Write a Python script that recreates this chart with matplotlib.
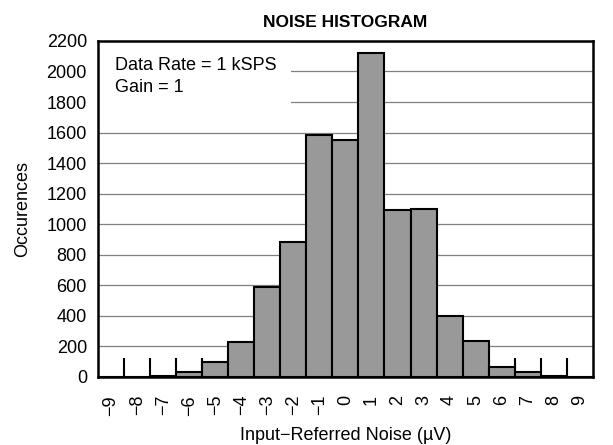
import numpy as np
import matplotlib.pyplot as plt
from matplotlib.patches import Rectangle

plt.rcParams['font.family'] = ['Liberation Sans', 'DejaVu Sans']

# noise bins (uV) and counts
bins = list(range(-9, 10))
counts = [0, 2, 8, 33, 98, 229, 589, 886, 1581, 1550, 2124, 1090, 1098, 400, 234, 66, 30, 3, 0]
tick_labels = [str(b).replace('-', '\u2212') for b in bins]
yticks = list(range(0, 2201, 200))

fig = plt.figure(figsize=(6.13, 4.45), dpi=100)
ax = fig.add_axes([0.160, 0.153, 0.807, 0.755])

ax.bar(bins, counts, width=1.0, color='#999999', edgecolor='black', linewidth=1.5, zorder=3)

ax.set_xlim(-9.5, 9.5)
ax.set_ylim(0, 2200)
ax.set_yticks(yticks)
ax.set_xticks(bins)
ax.set_xticklabels(tick_labels, rotation=90)
ax.set_xticks(np.arange(-8.5, 9.0, 1.0), minor=True)
ax.tick_params(axis='x', which='major', length=0, labelsize=13, pad=13)
ax.tick_params(axis='x', which='minor', direction='in', length=14, width=1.5, color='black')
ax.tick_params(axis='y', length=0, labelsize=13, pad=8)

ax.grid(axis='y', color='#808080', linewidth=0.9, zorder=1)
for s in ax.spines.values():
    s.set_linewidth(1.8)
    s.set_zorder(5)

# white panel behind the annotation hides the grid there
ax.add_patch(Rectangle((-9.5, 1680), 7.41, 520, facecolor='white', edgecolor='none', zorder=2))
ax.text(-8.85, 2095, 'Data Rate = 1 kSPS\nGain = 1', fontsize=13, va='top', ha='left',
        linespacing=1.35, zorder=4)

ax.set_title('NOISE HISTOGRAM', fontsize=12.5, fontweight='bold', pad=10)
ax.set_xlabel('Input\u2212Referred Noise (\u00b5V)', fontsize=13, labelpad=8)
ax.set_ylabel('Occurences', fontsize=13, labelpad=11)

fig.savefig('out.png', dpi=100)
